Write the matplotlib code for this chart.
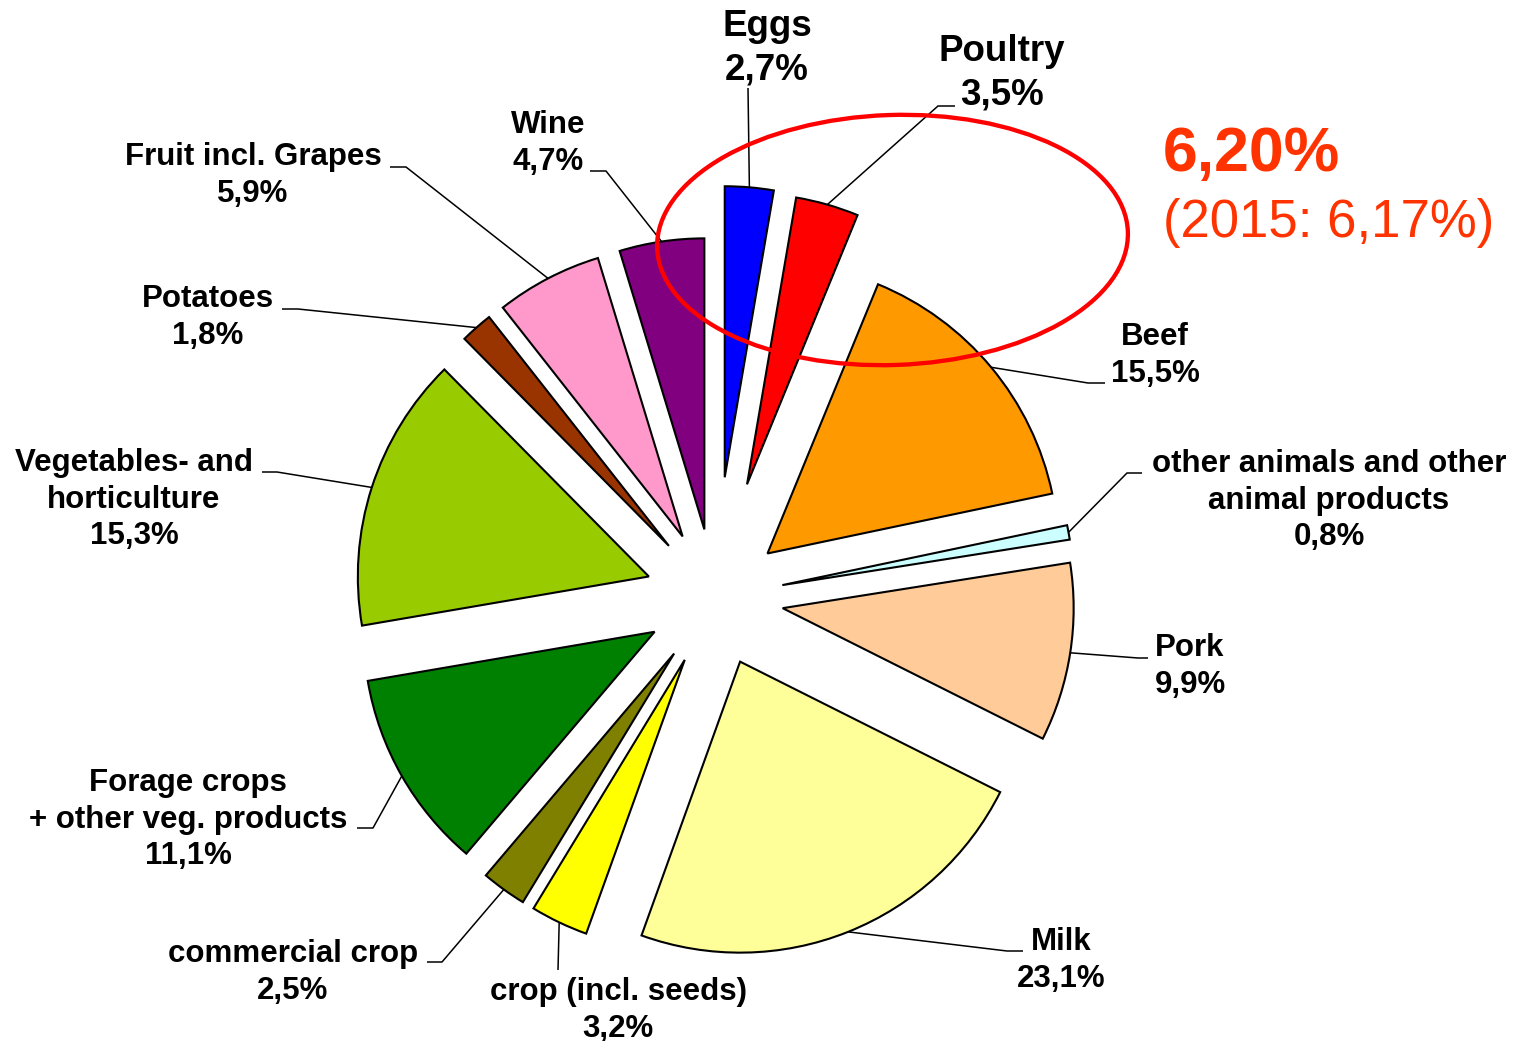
import numpy as np
import matplotlib
matplotlib.use("Agg")
import matplotlib.pyplot as plt
from matplotlib.patches import Ellipse

W, H = 1527, 1041

# slices, clockwise from 12 o'clock
categories = ["Eggs", "Poultry", "Beef", "other animals and other\nanimal products", "Pork",
              "Milk", "crop (incl. seeds)", "commercial crop",
              "Forage crops\n+ other veg. products", "Vegetables- and\nhorticulture",
              "Potatoes", "Fruit incl. Grapes", "Wine"]
shares = [2.7, 3.5, 15.5, 0.8, 9.9, 23.1, 3.2, 2.5, 11.1, 15.3, 1.8, 5.9, 4.7]
colors = ["#0000FF", "#FF0000", "#FF9900", "#CCFFFF", "#FFCC99", "#FFFF99", "#FFFF00",
          "#808000", "#008000", "#99CC00", "#993300", "#FF99CC", "#800080"]
# explosion as a fraction of the radius
explode = [0.415, 0.405, 0.237, 0.237, 0.237, 0.237, 0.237, 0.237, 0.237, 0.237, 0.237, 0.237, 0.237]
prev_share = 6.17  # eggs + poultry in 2015

# label layout, picture pixels (y from top): text centre x, first baseline
label_xy = [(767, 36), (1002, 61), (1155, 345), (1329, 472), (1190, 656), (1061, 950),
            (618, 1000), (293, 962), (188, 791), (134, 471), (208, 307), (253, 165), (548, 133)]
label_pt = [26.5, 26.5] + [22.5] * 11
# leader: elbow point, then end of the short horizontal piece
elbow = [(748, 88), (938, 106), (1088, 383), (1127, 473), (1138, 658), (1007, 951),
         (558, 970), (442, 962), (373, 828), (277, 472), (298, 309), (406, 167), (606, 171)]
end_x = [748, 955, 1105, 1142, 1148, 1023, 558, 427, 357, 262, 282, 390, 590]

FONT = ["Liberation Sans", "DejaVu Sans"]
RADIUS = 291


def pct(v, nd=1):
    return f"{v:.{nd}f}%".replace(".", ",")


def main():
    fig = plt.figure(figsize=(W / 100, H / 100), dpi=100)
    ax = fig.add_axes([0, 0, 1, 1])

    # pie() takes explode in data units, so scale by the radius
    wedges, _ = ax.pie(shares, colors=colors, explode=[e * RADIUS for e in explode],
                       startangle=90, counterclock=False, radius=RADIUS,
                       center=(714.5, H - 597.6),
                       wedgeprops=dict(edgecolor="black", linewidth=1.5))
    ax.set_xlim(0, W)
    ax.set_ylim(0, H)
    ax.set_aspect("equal")
    ax.axis("off")

    for i, w in enumerate(wedges):
        # leader line from middle of the outer arc
        a = np.deg2rad((w.theta1 + w.theta2) / 2)
        sx = w.center[0] + w.r * np.cos(a)
        sy = w.center[1] + w.r * np.sin(a)
        ex, ey = elbow[i]
        ax.plot([sx, ex, end_x[i]], [sy, H - ey, H - ey], color="black", lw=1.1,
                solid_capstyle="butt", zorder=1)

        lines = categories[i].split("\n") + [pct(shares[i])]
        step = 1.17 * label_pt[i] / 72 * 100
        x, y0 = label_xy[i]
        for k, s in enumerate(lines):
            ax.text(x, H - (y0 + k * step), s, ha="center", va="baseline",
                    fontsize=label_pt[i], fontweight="bold", family=FONT)

    # highlight eggs + poultry
    ax.add_patch(Ellipse((892.5, H - 240), 471, 250, angle=2, fill=False,
                         edgecolor="#FF0000", lw=3.1, zorder=5))
    ax.text(1163, H - 171, pct(shares[0] + shares[1], 2), ha="left", va="baseline",
            fontsize=45, fontweight="bold", color="#FF3300", family=FONT)
    ax.text(1163, H - 237, "(2015: " + pct(prev_share, 2) + ")", ha="left", va="baseline",
            fontsize=38, color="#FF3300", family=FONT)

    fig.savefig("out.png", dpi=100, facecolor="white")


if __name__ == "__main__":
    main()
